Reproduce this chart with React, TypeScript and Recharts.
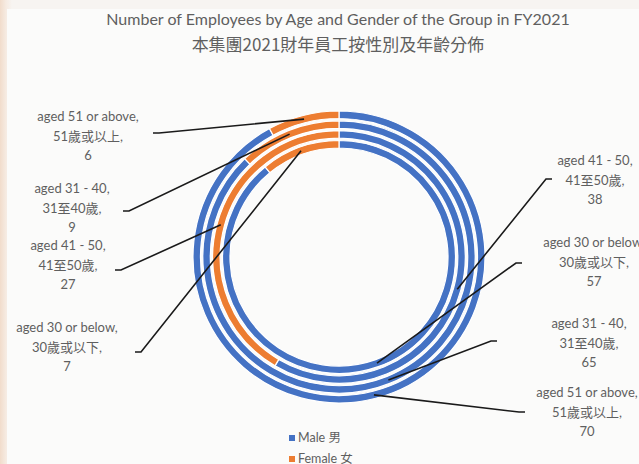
import React from 'react';
import { PieChart, Pie, Cell } from 'recharts';

// ---- data (rings listed from innermost to outermost) ----
const ageGroupsEn = ['aged 30 or below', 'aged 41 - 50', 'aged 31 - 40', 'aged 51 or above'];
const ageGroupsZh = ['30歲或以下', '41至50歲', '31至40歲', '51歲或以上'];
const maleCounts = [57, 38, 65, 70];
const femaleCounts = [7, 27, 9, 6];
const seriesNames = ['Male 男', 'Female 女'];
const titleLines = [
  'Number of Employees by Age and Gender of the Group in FY2021',
  '本集團2021財年員工按性別及年齡分佈',
];

// ---- layout / style ----
const W = 639;
const H = 464;
const CX = 334;
const CY = 252;
const COLORS = ['#4472C4', '#ED7D31'];
const TEXT = '#5f5f5f';
const FONT = "Lato, 'Noto Sans CJK TC', sans-serif";
const ringRadii: [number, number][] = [
  [109, 116.5],
  [118.8, 126.3],
  [128.7, 136.2],
  [138.5, 146],
];
// label placement per ring: [male, female]; x = text centre, y = first line, sx/sy = leader start
const labelLayout = [
  [{ x: 594, y: 242, sx: 522, sy: 263 }, { x: 67, y: 327, sx: 135, sy: 352 }],
  [{ x: 595, y: 160, sx: 552, sy: 179 }, { x: 68, y: 245, sx: 115, sy: 270 }],
  [{ x: 589, y: 323, sx: 497, sy: 341 }, { x: 72, y: 188, sx: 123, sy: 211 }],
  [{ x: 587, y: 392, sx: 525, sy: 412 }, { x: 88, y: 116, sx: 153, sy: 133 }],
];

const RAD = Math.PI / 180;

function makeLabel(ring: number) {
  return (props: any) => {
    const { cx, cy, midAngle, innerRadius, outerRadius, index, value } = props;
    const lay = labelLayout[ring][index];
    const r = (innerRadius + outerRadius) / 2;
    const ex = cx + r * Math.cos(-midAngle * RAD);
    const ey = cy + r * Math.sin(-midAngle * RAD);
    const stub = index === 0 ? 6 : -6;
    const lines = [`${ageGroupsEn[ring]},`, `${ageGroupsZh[ring]},`, String(value)];
    return (
      <g>
        <polyline
          points={`${lay.sx},${lay.sy} ${lay.sx - stub},${lay.sy} ${ex},${ey}`}
          fill="none"
          stroke="#1a1a1a"
          strokeWidth={1.6}
        />
        <text
          x={lay.x}
          y={lay.y}
          textAnchor="middle"
          dominantBaseline="central"
          fill={TEXT}
          fontSize={13}
          fontFamily={FONT}
        >
          {lines.map((t, i) => (
            <tspan key={i} x={lay.x} y={lay.y + i * 19.5}>
              {t}
            </tspan>
          ))}
        </text>
      </g>
    );
  };
}

export default function App() {
  return (
    <div
      style={{
        position: 'absolute',
        left: 0,
        top: 0,
        width: W,
        height: H,
        overflow: 'hidden',
        background: 'linear-gradient(90deg, #f1dccb 0px, #f6ebe2 6px, #f7f4f1 12px)',
        fontFamily: FONT,
      }}
    >
      <div
        style={{
          position: 'absolute',
          left: 7,
          top: 9,
          width: W - 7,
          height: H - 9,
          background: '#fbfbfa',
        }}
      />
      <div
        style={{
          position: 'absolute',
          left: 0,
          top: 8,
          width: 676,
          textAlign: 'center',
          color: TEXT,
          fontSize: 16,
          lineHeight: '22px',
        }}
      >
        <div>{titleLines[0]}</div>
        <div style={{ fontSize: 17, fontFamily: "'Noto Sans CJK TC', sans-serif", lineHeight: '28px' }}>
          {titleLines[1]}
        </div>
      </div>
      <div style={{ position: 'absolute', left: 0, top: 0 }}>
        <PieChart width={W} height={H}>
          {maleCounts.map((m, ring) => (
            <Pie
              key={ring}
              data={[
                { name: seriesNames[0], value: m },
                { name: seriesNames[1], value: femaleCounts[ring] },
              ]}
              dataKey="value"
              nameKey="name"
              cx={CX}
              cy={CY}
              innerRadius={ringRadii[ring][0]}
              outerRadius={ringRadii[ring][1]}
              startAngle={90}
              endAngle={-270}
              stroke="#ffffff"
              strokeWidth={1.2}
              isAnimationActive={false}
              labelLine={false}
              label={makeLabel(ring)}
            >
              <Cell fill={COLORS[0]} />
              <Cell fill={COLORS[1]} />
            </Pie>
          ))}
        </PieChart>
      </div>
      <div
        style={{
          position: 'absolute',
          left: 289,
          top: 427,
          color: TEXT,
          fontSize: 12.5,
          lineHeight: '21px',
        }}
      >
        {seriesNames.map((n, i) => (
          <div key={n} style={{ display: 'flex', alignItems: 'center' }}>
            <span
              style={{ display: 'inline-block', width: 6, height: 6, background: COLORS[i], marginRight: 3 }}
            />
            <span>{n}</span>
          </div>
        ))}
      </div>
    </div>
  );
}
